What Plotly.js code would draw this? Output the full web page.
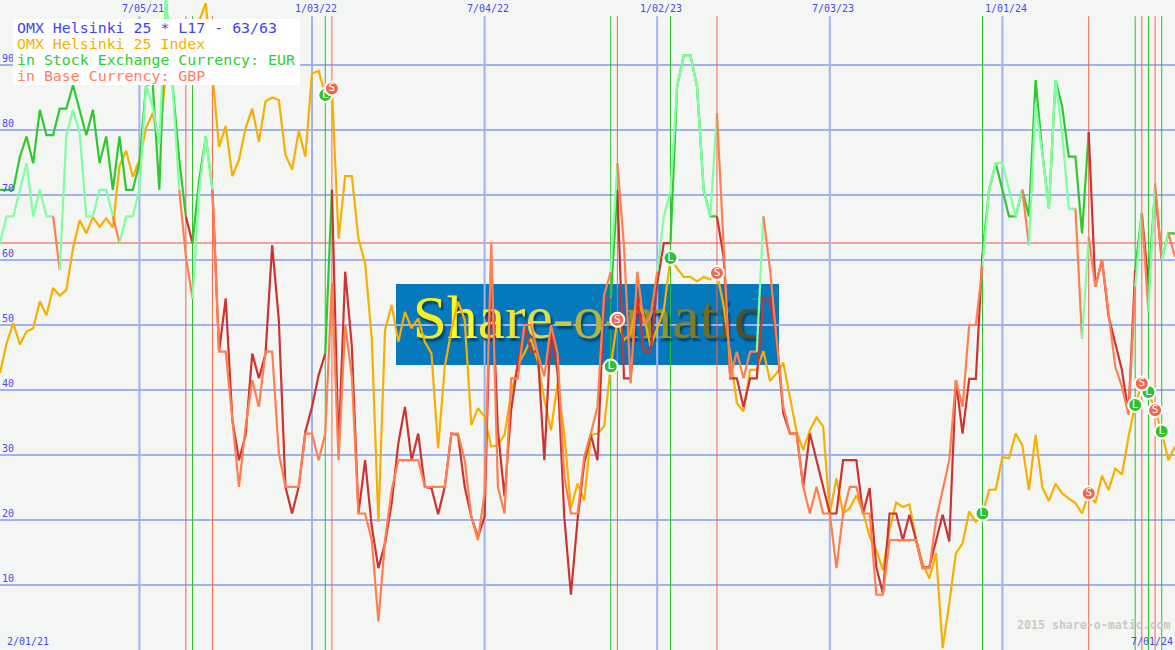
<!DOCTYPE html>
<html>
<head>
<meta charset="utf-8">
<script src="https://cdn.plot.ly/plotly-3.0.1.min.js"></script>
<style>html,body{margin:0;padding:0;background:#f4f6f3}#chart{width:1175px;height:650px}</style>
</head>
<body>
<div id="chart"></div>
<script>
// ---- data (weekly values) ----
const firstWeek = Date.UTC(2021, 1, 8);
const indexValues = [
42.6,47.2,50.3,47,49,49.5,53.6,51.5,55.7,54.5,
55.4,61.8,66.1,64.1,66.6,65.1,66.4,65,74.4,76.8,
72.8,75.4,80.3,82.6,77.9,89,92,93,92,94,
96.8,99.5,88.6,77.4,80.6,72.9,75.4,80.3,83.3,78.2,
84.4,85,84.6,76.2,73.9,79.9,75.9,88.7,89.1,85.4,
86.4,63.3,72.9,72.9,63.3,59.5,48,19.7,49.2,53.1,
47.4,52,49.5,51,47.4,45.6,31,43.6,49.2,53.6,
50.8,34.6,37.2,35.9,31.3,31.5,33.1,39.5,43.8,45.7,
47.9,44.4,38.5,33.8,41,33.3,21.8,25.6,23,33.1,
33.3,34.4,43.6,50.8,47.7,48.7,53.8,51.3,46.7,49.5,
52.3,60.3,58.7,57.4,57.4,56.7,57.4,57,58,53,
45.6,38,36.7,43.1,43.1,46,41.4,42.6,44.2,39,
33.6,30.8,33.8,35.8,34.4,21,26.4,21,21.8,23.8,
21.3,17.4,15.4,12.3,18.5,22.7,22,22.4,16.9,13.3,
11,14.9,0.3,7.2,14.9,16.4,21.3,19.7,21,24.6,
24.7,29.7,29.5,33.3,31.5,24.6,33.1,25.1,22.9,25.6,
24.1,23.3,22.6,21,24.1,22.6,26.8,24.6,27.9,27,
32.8,37.7,41,39.7,36.9,33.6,29.2,31.3];
const eurValues = [
70.8,70.8,70.8,75.9,79,74.9,83.1,79.2,79.2,83.3,
83.3,86.9,83.1,79.2,83.1,74.9,79,70.8,79,70.8,
70.8,74.9,86.9,87.2,70.8,100,86.9,75.4,66.7,62.6,
72.3,79,70.8,45.9,54.1,35.4,29.2,33.1,45.6,41.8,
45.6,62.3,50.8,25.1,21,25.1,33.6,37.4,42.3,45.6,
70.8,31,58.2,46.7,21,29.2,19,12.6,16.4,22.6,
31.8,37.4,29.2,33.3,25.1,24.9,20.9,25.1,33.3,33.1,
25.1,20.5,17.4,20.5,59.5,33.8,23.6,36.9,44.1,50,
45.9,45.9,29.2,49.7,42.6,20.5,8.5,20,28.7,33.1,
29.2,54.1,54.1,70.8,41.8,41.8,54.6,45.9,45.9,56.4,
62.6,62.6,86.7,91.5,91.5,86.7,70.8,66.7,66.7,60.5,
41.8,41.8,37.4,41.8,41.8,54.1,54.1,47.7,36.4,33.3,
33.3,25.1,33.3,29.2,25.1,21,21,29.2,29.2,29.2,
21,24.9,12.8,8.7,21,21,16.9,20.8,16.9,12.6,
12.8,16.9,20.8,16.7,41.5,33.3,41.7,41.7,61,70.8,
74.9,70.8,66.7,66.7,70.8,66.7,87.7,76.7,67.9,87.7,
83.6,75.9,75.9,64.1,79.7,55.9,60,51.3,47.2,43.1,
36.4,58.5,67.2,56.2,71,60,64.1,64.1];
const gbpValues = [
62.6,66.7,66.7,70.8,74.9,66.7,70.8,66.7,66.7,58.5,
79.2,83.1,79.5,66.7,66.7,70.8,70.8,66.7,62.6,66.7,
66.7,70.8,86.9,83.6,77.9,100,86.7,70.8,60.5,54.1,
70.8,79,70.8,45.9,45.9,35.4,25.1,34.4,41.5,37.4,
45.9,45.9,30.3,25.1,25.1,25.1,33.3,33.3,29.2,33.3,
56.4,29.2,50,42.1,21,21,16.9,4.4,16.9,24.6,
29.2,29.2,29.2,29.2,25.1,25.1,25.1,25.1,33.3,33.3,
29.2,20.5,16.9,24.1,62.6,25.1,21,41.8,41.8,50,
50,45.6,42.1,50,45.6,26.7,21,21,29.7,33.3,
37.4,54.6,58.2,74.9,62.1,41,58.2,50,51.3,58.2,
66.7,70.5,86.7,91.5,91.5,86.7,70.8,66.7,82.6,61.5,
41.8,45.9,41.8,45.9,45.9,66.7,58.5,47.7,37.4,33.3,
33.3,25.1,21,25.1,21,21,12.6,21,25.1,25.1,
21,21,8.5,8.5,16.9,16.9,16.9,16.9,16.9,12.6,
12.6,20,24.6,29.2,41.5,37.4,50,50,59,70.8,
74.9,74.9,70.8,66.7,70.8,62.3,84.1,76.4,67.9,87.7,
79.5,67.9,67.9,47.9,63.6,55.9,60,51.3,43.6,40.5,
36.2,55.9,67.2,52.1,71.8,60,64.1,60.5];
const eurShortWeeks = [[28,29],[32,49],[50,92],[93,101],[108,148],[164,171],[172,173],[174,175]];
const gbpShortWeeks = [[8,9],[17,18],[27,29],[32,92],[93,99],[108,114],[115,148],[154,155],[162,163],[164,171],[172,173],[174,175],[176,177]];
const longWeeks  = [29,49,92,101,148,171,173,175];
const shortWeeks = [28,32,50,93,108,164,172,174];
const gridLevels = [10,20,30,40,50,60,70,80,90];
const gridDates  = ['2021-07-05','2022-01-03','2022-07-04','2023-01-02','2023-07-03','2024-01-01'];
const gridLabels = ['7/05/21','1/03/22','7/04/22','1/02/23','7/03/23','1/01/24'];
const referenceLevel = 62.6;
const logoLetters = ['S','h','a','r','e','-','o','-','m','a','t','i','c'];
const logoColours = ['#f4f01e','#fbfb2a','#f6ee2c','#ece43a','#dedc48','#c8c848','#b4b43e','#a8a83a','#96942e','#827e24','#726c20','#625c1a','#56501a'];
const legendLines = [
  ['OMX Helsinki 25 * L17 - 63/63', '#4444ee'],
  ['OMX Helsinki 25 Index', '#f5b000'],
  ['in Stock Exchange Currency: EUR', '#30cc30'],
  ['in Base Currency: GBP', '#ff7f5c']
];

// ---- styles ----
const MONO = '"DejaVu Sans Mono", monospace';
const W = 1175, H = 650;
const BG = '#f4f6f3', GRID = '#a2b2f0', BLUE = '#4848f0';
const AMBER = '#f5b000', DARKGREEN = '#30c830', DARKRED = '#cc3333', LIGHTGREEN = '#80ffa0', ORANGE = '#ff7f50';
const SIGNAL_GREEN = '#30c030', SIGNAL_RED = '#f2684e';
const px = v => v / W, py = v => 1 - v / H;
const dates = indexValues.map((_, k) => new Date(firstWeek + k * 7 * 864e5).toISOString().slice(0, 10));

function lineTrace(a, b, values, color) {
  return {type: 'scatter', mode: 'lines', x: dates.slice(a, b + 1), y: values.slice(a, b + 1),
    line: {color: color, width: 2.2, shape: 'linear'}, hoverinfo: 'skip'};
}
function colouredLine(values, shorts, longColor, shortColor) {
  const out = []; let pos = 0;
  shorts.forEach(([a, b]) => {
    if (a > pos) out.push(lineTrace(pos, a, values, longColor));
    out.push(lineTrace(a, b, values, shortColor));
    pos = b;
  });
  if (pos < values.length - 1) out.push(lineTrace(pos, values.length - 1, values, longColor));
  return out;
}
function signalTrace(weeks, color, letter) {
  return {type: 'scatter', mode: 'markers+text', x: weeks.map(k => dates[k]), y: weeks.map(k => indexValues[k]),
    text: weeks.map(() => letter), textposition: 'middle center',
    textfont: {family: MONO, size: 11, color: '#ffffff'},
    marker: {size: 14, color: color, line: {color: '#ffffff', width: 2}}, hoverinfo: 'skip'};
}
const logoHtml = logoLetters.map((c, i) => '<span style="color:' + logoColours[i] + '">' + c + '</span>').join('');

const traces = [
  {type: 'scatter', mode: 'text', x: ['2022-10-20'], y: [50.4], text: [logoHtml], textposition: 'middle center',
   textfont: {family: '"Liberation Serif", serif', size: 61.5, color: '#f4f01e', shadow: '2px 3px 2px #03426e'}, hoverinfo: 'skip'},
  lineTrace(0, indexValues.length - 1, indexValues, AMBER)
].concat(
  colouredLine(eurValues, eurShortWeeks, DARKGREEN, DARKRED),
  colouredLine(gbpValues, gbpShortWeeks, LIGHTGREEN, ORANGE),
  [signalTrace(longWeeks, SIGNAL_GREEN, 'L'), signalTrace(shortWeeks, SIGNAL_RED, 'S')]
);

const gridTop = 97.5;
const shapes = [
  {type: 'rect', layer: 'below', xref: 'paper', yref: 'paper', x0: px(396), x1: px(779), y0: py(284), y1: py(365),
   fillcolor: '#0579bb', line: {width: 0}}
];
gridLevels.forEach(l => shapes.push({type: 'line', layer: 'below', xref: 'paper', yref: 'y', x0: 0, x1: 1, y0: l, y1: l,
  line: {color: GRID, width: 2}}));
gridDates.forEach(d => shapes.push({type: 'line', layer: 'below', xref: 'x', yref: 'y', x0: d, x1: d, y0: 0, y1: gridTop,
  line: {color: GRID, width: 2}}));
shapes.push({type: 'line', layer: 'below', xref: 'paper', yref: 'y', x0: 0, x1: 1, y0: referenceLevel, y1: referenceLevel,
  line: {color: '#f4a0a0', width: 2}});
longWeeks.forEach(k => shapes.push({type: 'line', layer: 'below', xref: 'x', yref: 'y', x0: dates[k], x1: dates[k], y0: 0, y1: gridTop,
  line: {color: SIGNAL_GREEN, width: 1}}));
shortWeeks.forEach(k => shapes.push({type: 'line', layer: 'below', xref: 'x', yref: 'y', x0: dates[k], x1: dates[k], y0: 0, y1: gridTop,
  line: {color: SIGNAL_RED, width: 1}}));
shapes.push({type: 'rect', layer: 'above', xref: 'paper', yref: 'paper', x0: px(13), x1: px(300), y0: py(19), y1: py(85),
  fillcolor: '#ffffff', line: {width: 0}});

const annotations = legendLines.map(([t, c], i) => ({
  xref: 'paper', yref: 'paper', x: px(15.5), y: py(28 + 16 * i), xanchor: 'left', yanchor: 'middle', showarrow: false,
  text: t, font: {family: MONO, size: 14.9, color: c}, borderpad: 0
}));
gridDates.forEach((d, i) => annotations.push({
  xref: 'x', yref: 'paper', x: d, xshift: 3.5, y: py(8.5), xanchor: 'center', yanchor: 'middle', showarrow: false,
  text: gridLabels[i], font: {family: MONO, size: 10, color: BLUE}, borderpad: 0
}));
annotations.push(
  {xref: 'paper', yref: 'paper', x: px(28), y: py(641.5), showarrow: false, xanchor: 'center', yanchor: 'middle',
   text: '2/01/21', font: {family: MONO, size: 10, color: BLUE}},
  {xref: 'paper', yref: 'paper', x: px(1152), y: py(641.5), showarrow: false, xanchor: 'center', yanchor: 'middle',
   text: '7/01/24', font: {family: MONO, size: 10, color: BLUE}},
  {xref: 'paper', yref: 'paper', x: px(1173), y: py(625), showarrow: false, xanchor: 'right', yanchor: 'middle',
   text: '2015 share-o-matic.com', font: {family: MONO, size: 11.6, color: '#c9c9c9', weight: 700}}
);

Plotly.newPlot('chart', traces, {
  width: W, height: H,
  margin: {l: 0, r: 0, t: 0, b: 0, pad: 0},
  paper_bgcolor: BG, plot_bgcolor: BG,
  showlegend: false,
  xaxis: {type: 'date', range: [dates[0], dates[dates.length - 1]], showticklabels: false,
    ticks: '', showgrid: false, zeroline: false, showline: false, automargin: false},
  yaxis: {range: [0, 100], ticklabelposition: 'inside top', ticklabelstandoff: -1, tickmode: 'array', tickvals: gridLevels, ticks: '',
    showgrid: false, zeroline: false, showline: false, tickfont: {family: MONO, size: 10, color: BLUE}, automargin: false},
  shapes: shapes,
  annotations: annotations
}, {staticPlot: true, displayModeBar: false});
</script>
</body>
</html>
